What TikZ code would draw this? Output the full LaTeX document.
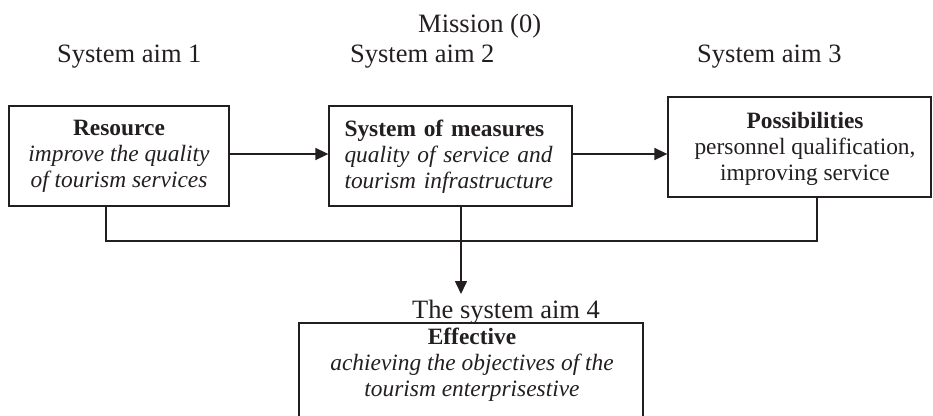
\documentclass[tikz,border=0pt]{standalone}
\usepackage{fontspec}
\setmainfont{Liberation Serif}
\usetikzlibrary{arrows.meta}
\definecolor{ink}{RGB}{35,31,32}
\begin{document}
\begin{tikzpicture}[x=1pt,y=-1pt,
  boxst/.style={draw=ink, line width=1.3pt, inner sep=0pt},
  lbl/.style={font=\fontsize{26.5}{30}\selectfont, text=ink, inner sep=0pt, anchor=base west},
  txt/.style={font=\fontsize{23.4}{26}\selectfont, text=ink, align=center, inner sep=0pt},
  conn/.style={draw=ink, line width=1.6pt},
  arr/.style={conn, -{Triangle[length=13pt,width=12pt]}}]
\useasboundingbox (0,0) rectangle (933,415);
% labels
\node[lbl] (mission) at (418,32) {Mission (0)};
\node[lbl] (aim1) at (57,62) {System aim 1};
\node[lbl] (aim2) at (350,62) {System aim 2};
\node[lbl] (aim3) at (697,62) {System aim 3};
\node[lbl] (aim4) at (412,318) {The system aim 4};
% boxes
\node[boxst, minimum width=220pt, minimum height=100pt] (b1) at (119,156) {};
\node[txt] (t1) at (119,156.5) {\textbf{Resource}\\\textit{improve the quality}\\\textit{of tourism services}};
\node[boxst, minimum width=243pt, minimum height=100pt] (b2) at (450.5,156) {};
\node[txt, text width=212pt, align=left] (t2) at (450.5,156.5) {\textbf{System of measures}\\\makebox[212pt][s]{\itshape quality of service and}\\\textit{tourism infrastructure}};
\node[boxst, minimum width=263pt, minimum height=100pt] (b3) at (799.5,147) {};
\node[txt] (t3) at (805,148.5) {\textbf{Possibilities}\\personnel qualification,\\improving service};
\node[boxst, minimum width=344pt, minimum height=120pt] (b4) at (471,383) {};
\node[txt] (t4) at (472,365) {\textbf{Effective}\\\textit{achieving the objectives of the}\\\textit{tourism enterprisestive}};
% connectors
\coordinate (tip) at (461,294);
\coordinate (c1) at (106,241);
\coordinate (c2) at (817,241);
\draw[arr] ([yshift=2pt]b1.east) -- ([yshift=2pt]b2.west);
\draw[arr] ([yshift=2pt]b2.east) -- ([yshift=2pt]b2.east -| b3.west);
\draw[conn] (b1.south -| c1) -- (c1) -- (c2) -- (b3.south -| c2);
\draw[arr] (b2.south -| tip) -- (tip);
\end{tikzpicture}
\end{document}
